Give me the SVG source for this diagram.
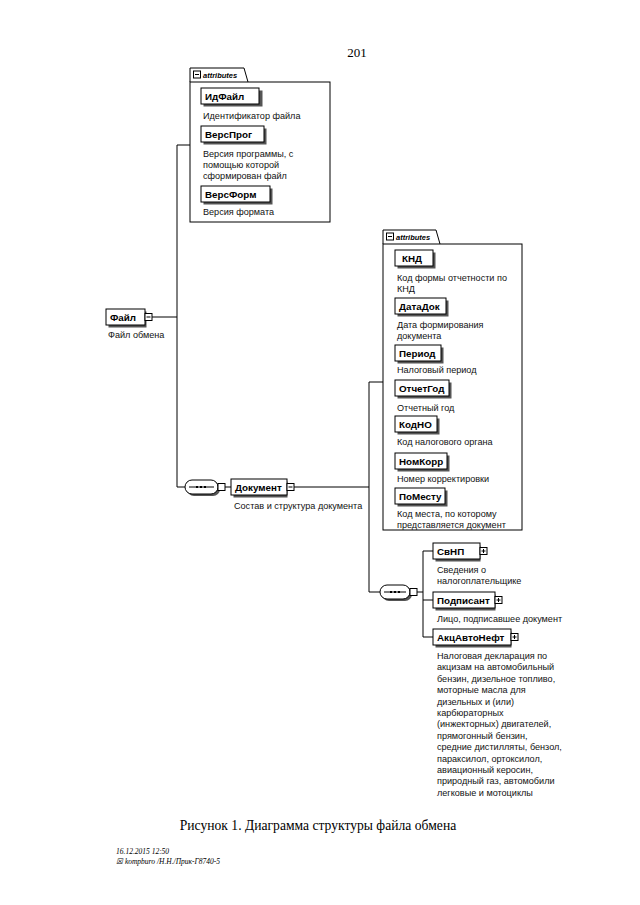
<svg xmlns="http://www.w3.org/2000/svg" width="640" height="905" viewBox="0 0 640 905">
<style>
.bg{fill:#fff}
.ln{stroke:#000;stroke-width:1;fill:none}
.box{fill:#fff;stroke:#000;stroke-width:1}
.sh{fill:#555}
.lbl{font-family:"Liberation Sans",Arial,sans-serif;font-size:9.8px;font-weight:bold;fill:#000}
.d{font-family:"Liberation Sans",Arial,sans-serif;font-size:9.1px;fill:#111}
.tab{font-family:"Liberation Sans",Arial,sans-serif;font-size:7.5px;font-style:italic;font-weight:bold;fill:#000}
.ser{font-family:"Liberation Serif","Times New Roman",serif;fill:#000}
</style>
<rect class="bg" width="640" height="905"/>
<text class="ser" x="357" y="57" font-size="13" text-anchor="middle">201</text>

<g id="connectors">
<path class="ln" d="M152 317 H177 M177 145 V487 M177 145 H190 M177 487 H185"/>
<path class="ln" d="M225 487 H231 M294 487 H369 M369 382 V592 M369 382 H383 M369 592 H380"/>
<path class="ln" d="M417 592 H423 M423 551 V637 M423 551 H433 M423 600 H433 M423 637 H433"/>
</g>

<g id="attributes1">
<path class="box" d="M190 82 V68 H244 L248 82"/>
<rect class="box" x="190" y="82" width="140" height="140"/>
<rect class="box" x="193.5" y="71" width="7" height="7"/>
<path class="ln" d="M195 74.5 H199"/>
<text class="tab" x="203" y="78">attributes</text>
</g>
<g id="ИдФайл">
<rect class="sh" x="203.5" y="90.5" width="59" height="16"/>
<rect class="box" x="201" y="88" width="58" height="16"/>
<text class="lbl" x="205" y="100">ИдФайл</text>
<text class="d" x="203" y="119">Идентификатор файла</text>
</g>
<g id="ВерсПрог">
<rect class="sh" x="203.5" y="128.5" width="63" height="16"/>
<rect class="box" x="201" y="126" width="63" height="16"/>
<text class="lbl" x="205" y="138">ВерсПрог</text>
<text class="d" x="203" y="157">Версия программы, с</text>
<text class="d" x="203" y="168">помощью которой</text>
<text class="d" x="203" y="179">сформирован файл</text>
</g>
<g id="ВерсФорм">
<rect class="sh" x="203.5" y="188.5" width="69" height="16"/>
<rect class="box" x="201" y="186" width="69" height="16"/>
<text class="lbl" x="205" y="198">ВерсФорм</text>
<text class="d" x="203" y="215">Версия формата</text>
</g>

<g id="Файл">
<rect class="sh" x="108.5" y="311.5" width="38" height="16"/>
<rect class="box" x="106" y="309" width="39" height="16"/>
<text class="lbl" x="110" y="321">Файл</text>
<rect class="box" x="145" y="313.5" width="7" height="7"/>
<path class="ln" d="M146.5 317 H150.5"/>
<text class="d" x="108" y="338">Файл обмена</text>
</g>

<g id="seq1">
<rect class="sh" x="187" y="482" width="33" height="14" rx="7"/>
<rect class="box" x="185" y="480" width="33" height="14" rx="7"/>
<path class="ln" d="M189 487 H214"/>
<path d="M196 486 h2 v2 h-2z M200 486 h2 v2 h-2z M204 486 h2 v2 h-2z" fill="#000"/>
<rect class="box" x="218" y="483.5" width="7" height="7"/>
</g>
<g id="Документ">
<rect class="sh" x="233.5" y="481.5" width="54" height="16"/>
<rect class="box" x="231" y="479" width="56" height="16"/>
<text class="lbl" x="235" y="491">Документ</text>
<rect class="box" x="287" y="483.5" width="7" height="7"/>
<path class="ln" d="M288.5 487 H292.5"/>
<text class="d" x="234" y="509">Состав и структура документа</text>
</g>

<g id="attributes2">
<path class="box" d="M383 244 V230 H436 L440 244"/>
<rect class="box" x="383" y="244" width="139" height="286"/>
<rect class="box" x="386.5" y="233" width="7" height="7"/>
<path class="ln" d="M388 236.5 H392"/>
<text class="tab" x="396" y="240">attributes</text>
</g>
<g id="КНД">
<rect class="sh" x="397.5" y="252.5" width="38" height="16"/>
<rect class="box" x="395" y="250" width="38" height="16"/>
<text class="lbl" x="402" y="262">КНД</text>
<text class="d" x="397" y="281">Код формы отчетности по</text>
<text class="d" x="397" y="292">КНД</text>
</g>
<g id="ДатаДок">
<rect class="sh" x="397.5" y="300.5" width="51" height="16"/>
<rect class="box" x="395" y="298" width="51" height="16"/>
<text class="lbl" x="399" y="310">ДатаДок</text>
<text class="d" x="397" y="328">Дата формирования</text>
<text class="d" x="397" y="339">документа</text>
</g>
<g id="Период">
<rect class="sh" x="397.5" y="347.5" width="46" height="16"/>
<rect class="box" x="395" y="345" width="46" height="16"/>
<text class="lbl" x="399" y="357">Период</text>
<text class="d" x="397" y="373">Налоговый период</text>
</g>
<g id="ОтчетГод">
<rect class="sh" x="397.5" y="382.5" width="54" height="16"/>
<rect class="box" x="395" y="380" width="54" height="16"/>
<text class="lbl" x="399" y="392">ОтчетГод</text>
<text class="d" x="397" y="411">Отчетный год</text>
</g>
<g id="КодНО">
<rect class="sh" x="397.5" y="418.5" width="42" height="16"/>
<rect class="box" x="395" y="416" width="42" height="16"/>
<text class="lbl" x="399" y="428">КодНО</text>
<text class="d" x="397" y="445">Код налогового органа</text>
</g>
<g id="НомКорр">
<rect class="sh" x="397.5" y="455.5" width="52" height="16"/>
<rect class="box" x="395" y="453" width="52" height="16"/>
<text class="lbl" x="399" y="465">НомКорр</text>
<text class="d" x="397" y="482">Номер корректировки</text>
</g>
<g id="ПоМесту">
<rect class="sh" x="397.5" y="490.5" width="50" height="16"/>
<rect class="box" x="395" y="488" width="50" height="16"/>
<text class="lbl" x="399" y="500">ПоМесту</text>
<text class="d" x="397" y="517">Код места, по которому</text>
<text class="d" x="397" y="528">представляется документ</text>
</g>

<g id="seq2">
<rect class="sh" x="382" y="587" width="30" height="14" rx="7"/>
<rect class="box" x="380" y="585" width="30" height="14" rx="7"/>
<path class="ln" d="M384 592 H406"/>
<path d="M390 591 h2 v2 h-2z M394 591 h2 v2 h-2z M398 591 h2 v2 h-2z" fill="#000"/>
<rect class="box" x="410" y="588.5" width="7" height="7"/>
</g>
<g id="СвНП">
<rect class="sh" x="435.5" y="545.5" width="45" height="16"/>
<rect class="box" x="433" y="543" width="47" height="16"/>
<text class="lbl" x="437" y="555">СвНП</text>
<rect class="box" x="480" y="547.5" width="7" height="7"/>
<path class="ln" d="M481.5 551 H485.5 M483.5 549 V553"/>
<text class="d" x="437" y="573">Сведения о</text>
<text class="d" x="437" y="584">налогоплательщике</text>
</g>
<g id="Подписант">
<rect class="sh" x="435.5" y="594.5" width="60" height="16"/>
<rect class="box" x="433" y="592" width="62" height="16"/>
<text class="lbl" x="437" y="604">Подписант</text>
<rect class="box" x="495" y="596.5" width="7" height="7"/>
<path class="ln" d="M496.5 600 H500.5 M498.5 598 V602"/>
<text class="d" x="437" y="622">Лицо, подписавшее документ</text>
</g>
<g id="АкцАвтоНефт">
<rect class="sh" x="435.5" y="631.5" width="76" height="16"/>
<rect class="box" x="433" y="629" width="78" height="16"/>
<text class="lbl" x="437" y="641">АкцАвтоНефт</text>
<rect class="box" x="511" y="633.5" width="7" height="7"/>
<path class="ln" d="M512.5 637 H516.5 M514.5 635 V639"/>
<text class="d" x="437" y="659">Налоговая декларация по</text>
<text class="d" x="437" y="670.4">акцизам на автомобильный</text>
<text class="d" x="437" y="681.8">бензин, дизельное топливо,</text>
<text class="d" x="437" y="693.2">моторные масла для</text>
<text class="d" x="437" y="704.6">дизельных и (или)</text>
<text class="d" x="437" y="716">карбюраторных</text>
<text class="d" x="437" y="727.4">(инжекторных) двигателей,</text>
<text class="d" x="437" y="738.8">прямогонный бензин,</text>
<text class="d" x="437" y="750.2">средние дистилляты, бензол,</text>
<text class="d" x="437" y="761.6">параксилол, ортоксилол,</text>
<text class="d" x="437" y="773">авиационный керосин,</text>
<text class="d" x="437" y="784.4">природный газ, автомобили</text>
<text class="d" x="437" y="795.8">легковые и мотоциклы</text>
</g>

<text class="ser" x="318" y="830" font-size="13.6" text-anchor="middle">Рисунок 1. Диаграмма структуры файла обмена</text>
<text class="ser" x="116" y="854" font-size="7.5" font-style="italic" fill="#333">16.12.2015 12:50</text>
<text class="ser" x="116" y="864" font-size="7.5" font-style="italic" fill="#333">☒ kompburo /Н.Н./Прик-Г8740-5</text>
</svg>
